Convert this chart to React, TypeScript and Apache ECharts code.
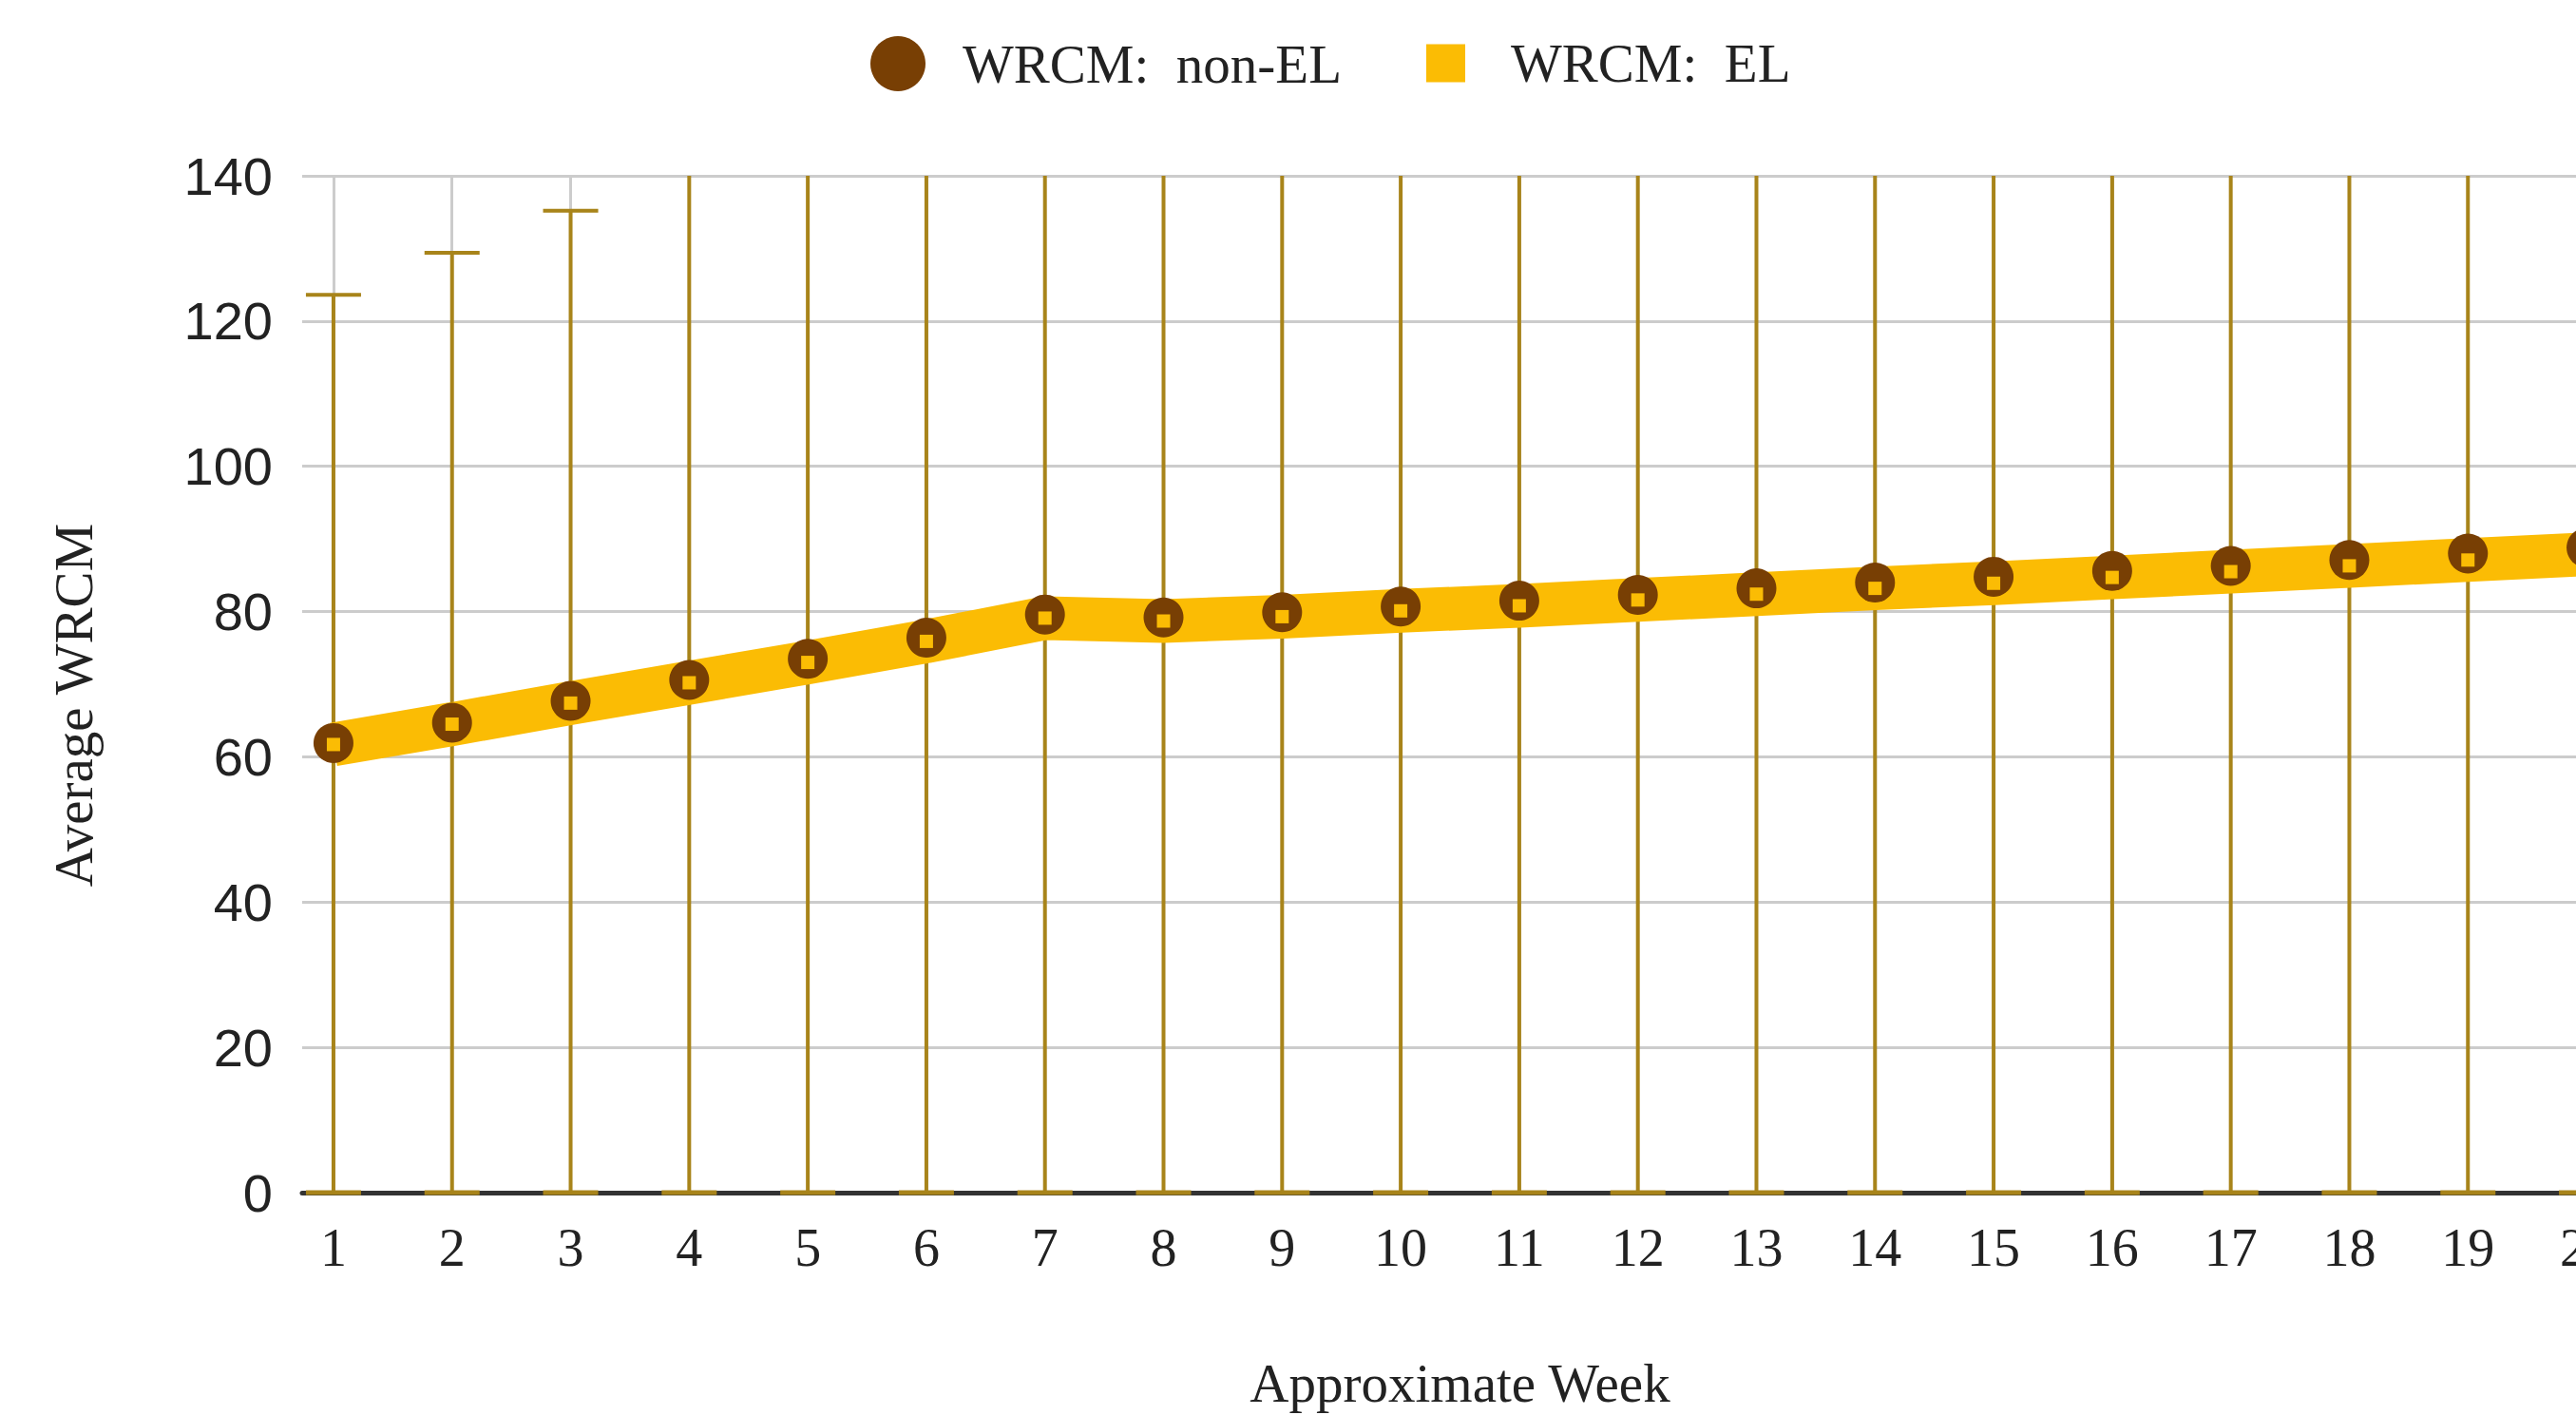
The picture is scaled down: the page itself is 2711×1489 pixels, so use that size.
import React, { useEffect, useRef } from "react";
import * as echarts from "echarts";

const weeks = [1, 2, 3, 4, 5, 6, 7, 8, 9, 10, 11, 12, 13, 14, 15, 16, 17, 18, 19, 20];
const nonEL = [61.9, 64.7, 67.7, 70.6, 73.5, 76.4, 79.6, 79.2, 79.9, 80.7, 81.5, 82.3, 83.2, 84.0, 84.8, 85.6, 86.3, 87.1, 88.0, 88.8];
const EL = [61.7, 64.5, 67.4, 70.2, 73.0, 75.9, 79.1, 78.7, 79.3, 80.1, 80.8, 81.6, 82.4, 83.2, 83.9, 84.7, 85.5, 86.3, 87.1, 87.9];
const errLow = [0, 0, 0, 0, 0, 0, 0, 0, 0, 0, 0, 0, 0, 0, 0, 0, 0, 0, 0, 0];
const errHigh = [123.6, 129.4, 135.2, 140.4, 146.0, 151.8, 158.2, 157.4, 158.6, 160.2, 161.6, 163.2, 164.8, 166.4, 167.8, 169.4, 171.0, 172.6, 174.2, 175.8];
const yTickValues = [0, 20, 40, 60, 80, 100, 120, 140];

const LABEL_NON_EL = "WRCM:  non-EL";
const LABEL_EL = "WRCM:  EL";
const X_TITLE = "Approximate Week";
const Y_TITLE = "Average WRCM";

const BROWN = "#783f04";
const YELLOW = "#fbbc04";
const ERR = "#a8841a";
const SERIF = "'Liberation Serif', 'Times New Roman', serif";
const SANS = "'Liberation Sans', Arial, sans-serif";

export default function App() {
  const ref = useRef<HTMLDivElement>(null);
  useEffect(() => {
    if (!ref.current) return;
    const chart = echarts.init(ref.current, undefined, { renderer: "svg" });
    const option: any = {
      animation: false,
      backgroundColor: "#ffffff",
      grid: { left: 318, right: 45, top: 185, bottom: 232, containLabel: false },
      legend: [
        {
          data: [{ name: LABEL_NON_EL, icon: "circle", itemStyle: { color: BROWN } }],
          left: 911,
          top: 33,
          itemWidth: 58,
          itemHeight: 58,
          selectedMode: false,
          textStyle: { fontFamily: SERIF, fontSize: 57, color: "#222", padding: [0, 0, 0, 34] },
        },
        {
          data: [{ name: LABEL_EL, icon: "rect", itemStyle: { color: YELLOW } }],
          left: 1496,
          top: 33,
          itemWidth: 41,
          itemHeight: 40,
          selectedMode: false,
          textStyle: { fontFamily: SERIF, fontSize: 57, color: "#222", padding: [0, 0, 0, 43] },
        },
      ],
      xAxis: {
        type: "value",
        min: 0.736,
        max: 20.264,
        name: X_TITLE,
        nameLocation: "middle",
        nameGap: 172,
        nameTextStyle: { fontFamily: SERIF, fontSize: 57, color: "#222", verticalAlign: "top" },
        axisLine: { show: true, onZero: false, lineStyle: { color: "#333", width: 5 } },
        axisTick: { show: false, customValues: weeks },
        axisLabel: {
          customValues: weeks,
          fontFamily: SERIF,
          fontSize: 56,
          color: "#222",
          margin: 30,
          formatter: (v: number) => String(v),
        },
        splitLine: { show: true, lineStyle: { color: "#cccccc", width: 3 } },
      },
      yAxis: {
        type: "value",
        min: 0,
        max: 140,
        interval: 20,
        axisLine: { show: false },
        axisTick: { show: false },
        axisLabel: {
          customValues: yTickValues,
          fontFamily: SANS,
          fontSize: 56,
          color: "#222",
          margin: 31,
        },
        splitLine: { show: true, lineStyle: { color: "#cccccc", width: 3 } },
      },
      graphic: [
        {
          type: "text",
          x: 77,
          y: 742,
          rotation: Math.PI / 2,
          style: {
            text: Y_TITLE,
            fontFamily: SERIF,
            fontSize: 57,
            fill: "#222",
            align: "center",
            verticalAlign: "middle",
          },
        },
      ],
      series: [
        {
          name: "interval",
          type: "custom",
          z: 2,
          data: weeks.map((w, i) => [w, errLow[i], errHigh[i]]),
          renderItem: (params: any, api: any) => {
            const x = api.value(0);
            const lo = api.value(1);
            const hi = api.value(2);
            const pLo = api.coord([x, lo]);
            const pHi = api.coord([x, hi]);
            const top = params.coordSys.y;
            const yHi = Math.max(pHi[1], top);
            const half = 29;
            const st = { stroke: ERR, lineWidth: 4 };
            const children: any[] = [
              { type: "line", shape: { x1: pLo[0], y1: pLo[1], x2: pLo[0], y2: yHi }, style: st },
              { type: "line", shape: { x1: pLo[0] - half, y1: pLo[1], x2: pLo[0] + half, y2: pLo[1] }, style: { stroke: ERR, lineWidth: 5 } },
            ];
            if (pHi[1] >= top) {
              children.push({ type: "line", shape: { x1: pHi[0] - half, y1: pHi[1], x2: pHi[0] + half, y2: pHi[1] }, style: st });
            }
            return { type: "group", children };
          },
        },
        {
          name: LABEL_EL,
          type: "line",
          z: 3,
          showSymbol: false,
          data: weeks.map((w, i) => [w, EL[i]]),
          lineStyle: { color: YELLOW, width: 46 },
          itemStyle: { color: YELLOW },
        },
        {
          name: LABEL_NON_EL,
          type: "scatter",
          z: 4,
          symbol: "circle",
          symbolSize: 42,
          data: weeks.map((w, i) => [w, nonEL[i]]),
          itemStyle: { color: BROWN, opacity: 1 },
        },
        {
          name: LABEL_EL,
          type: "scatter",
          z: 5,
          symbol: "rect",
          symbolSize: 14,
          data: weeks.map((w, i) => [w, EL[i]]),
          itemStyle: { color: YELLOW, opacity: 1 },
        },
      ],
    };
    chart.setOption(option);
    return () => chart.dispose();
  }, []);
  return (
    <div
      style={{
        position: "fixed",
        left: 0,
        top: 0,
        width: "100vw",
        height: "100vh",
        overflow: "hidden",
        background: "#fff",
      }}
    >
      <div ref={ref} style={{ width: 2800, height: 1489 }} />
    </div>
  );
}
